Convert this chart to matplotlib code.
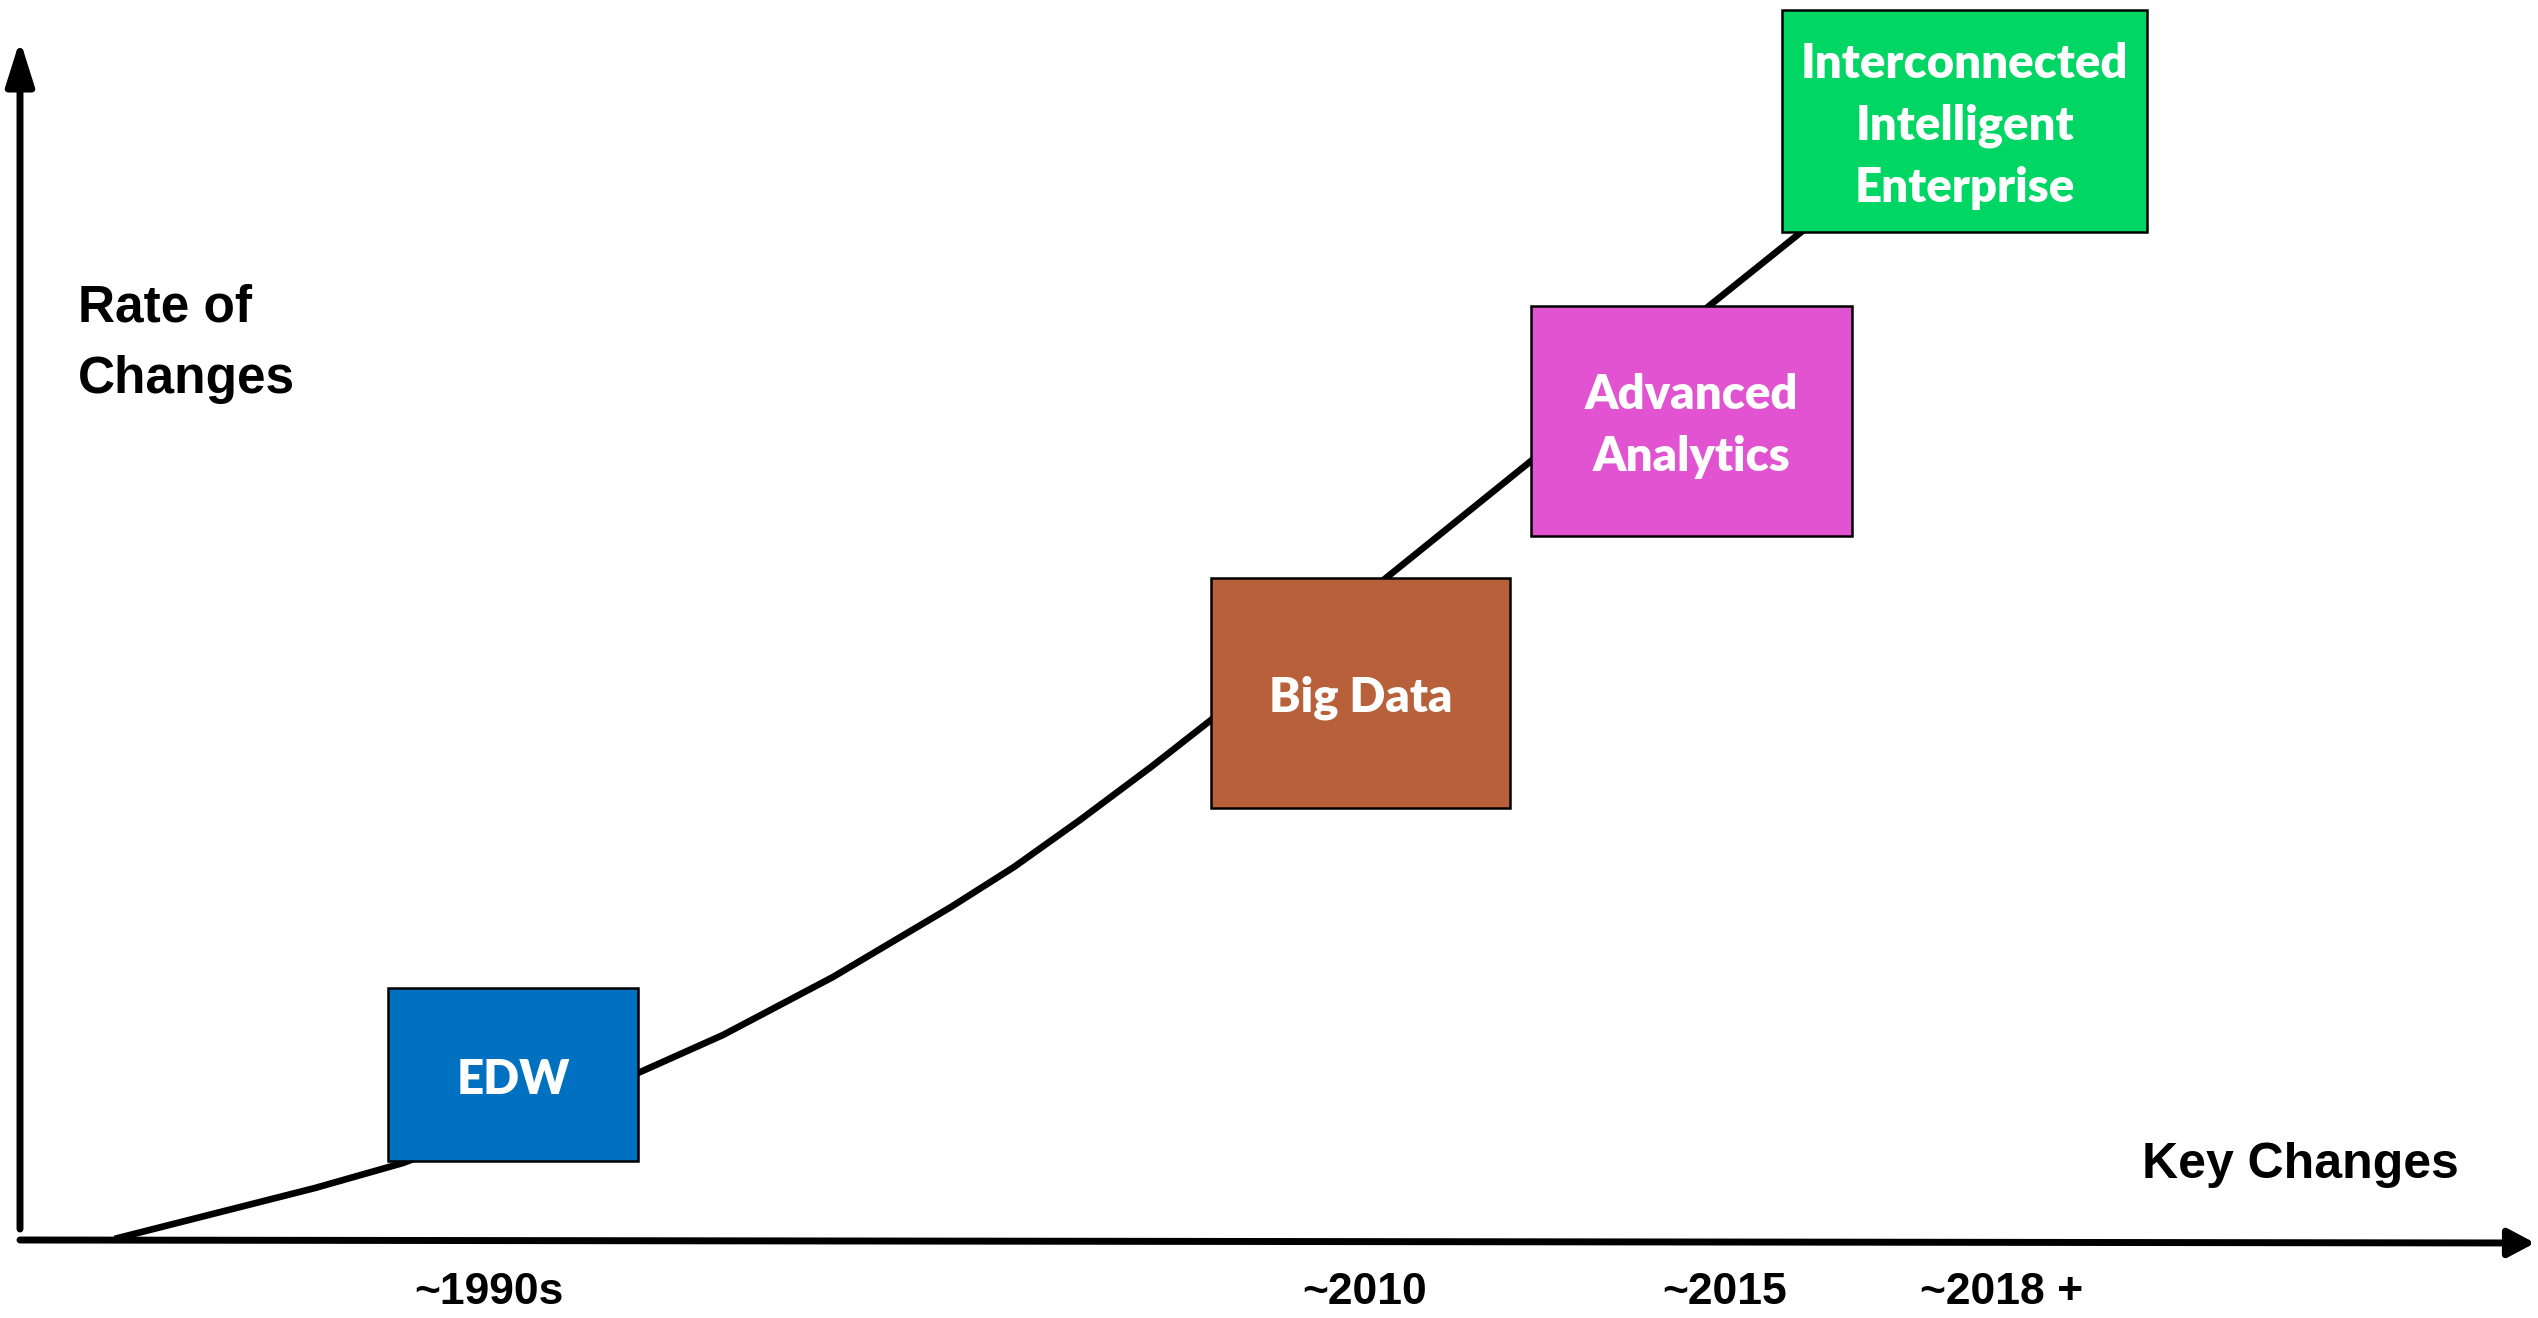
import matplotlib
matplotlib.use("Agg")
import matplotlib.pyplot as plt
from matplotlib.patches import Rectangle

# canvas in pixel units (y grows downward, like the source picture)
W, H = 2538, 1318

# the growth curve (x, y) - segments under the boxes are hidden by them
curve_x = [118, 315, 403, 638, 723, 833, 951, 1014, 1080, 1151, 1211, 1386, 1531, 1709, 1800]
curve_y = [1238, 1188, 1163, 1073, 1035, 977, 907, 867, 820, 767, 720, 578, 461, 306, 233]

# stage boxes: left, top, right, bottom
stage_names = ["EDW", "Big Data", "Advanced\nAnalytics", "Interconnected\nIntelligent\nEnterprise"]
stage_left = [388, 1211, 1531, 1782]
stage_top = [988, 578, 306, 10]
stage_right = [638, 1510, 1852, 2147]
stage_bottom = [1161, 808, 536, 232]
stage_colors = ["#0070C0", "#B86039", "#E153D0", "#00D663"]

# period labels under the horizontal axis
period_labels = ["~1990s", "~2010", "~2015", "~2018 +"]
period_x = [489, 1365, 1725, 2002]

title_font = ["Liberation Sans", "DejaVu Sans"]
box_font = ["Lato", "DejaVu Sans"]

fig = plt.figure(figsize=(W / 100, H / 100), dpi=100)
ax = fig.add_axes([0, 0, 1, 1])
ax.set_xlim(0, W)
ax.set_ylim(H, 0)
ax.axis("off")

# axes arrows
ax.annotate("", xy=(20, 40), xytext=(20, 1229),
            arrowprops=dict(arrowstyle="-|>,head_length=2.7,head_width=0.85",
                            lw=5, color="black", shrinkA=0, shrinkB=0,
                            mutation_scale=10))
ax.annotate("", xy=(2535, 1243), xytext=(20, 1240),
            arrowprops=dict(arrowstyle="-|>,head_length=1.6,head_width=0.85",
                            lw=5, color="black", shrinkA=0, shrinkB=0,
                            mutation_scale=10))

ax.plot(curve_x, curve_y, color="black", lw=4.8, solid_joinstyle="miter", zorder=2)

for name, l, t, r, b, c in zip(stage_names, stage_left, stage_top, stage_right,
                               stage_bottom, stage_colors):
    ax.add_patch(Rectangle((l, t), r - l, b - t, facecolor=c, edgecolor="black",
                           lw=1.8, zorder=3))
    ax.text((l + r) / 2, (t + b) / 2 + 5, name, color="white", fontsize=34,
            fontweight="heavy", family=box_font, ha="center", va="center",
            linespacing=1.5, zorder=4)

ax.text(78, 344, "Rate of\nChanges", fontsize=37, fontweight="bold",
        family=title_font, ha="left", va="center", linespacing=1.6)
ax.text(2300, 1165, "Key Changes", fontsize=36, fontweight="bold",
        family=title_font, ha="center", va="center")

for lab, x in zip(period_labels, period_x):
    ax.text(x, 1293, lab, fontsize=32, fontweight="bold", family=title_font,
            ha="center", va="center")

fig.savefig("out.png", dpi=100, facecolor="white")
